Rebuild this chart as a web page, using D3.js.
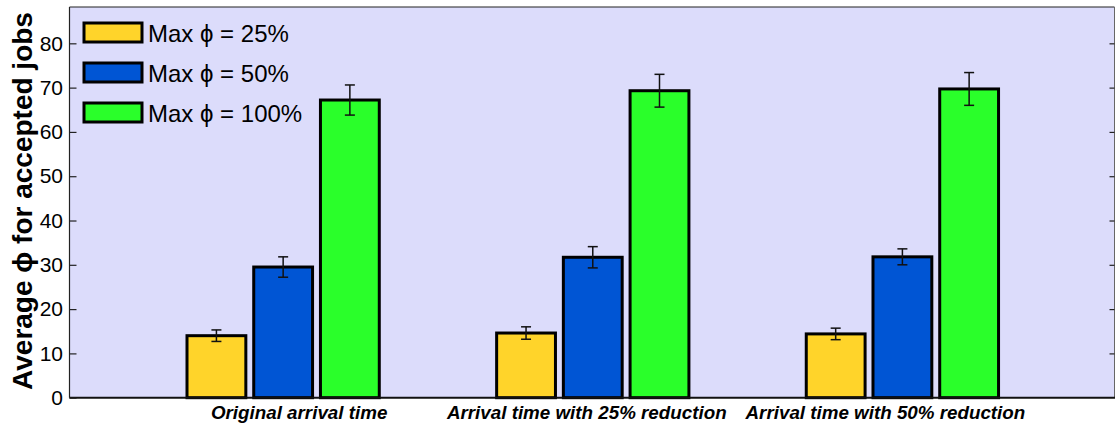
<!DOCTYPE html>
<html><head><meta charset="utf-8">
<script src="https://cdn.jsdelivr.net/npm/d3@7"></script>
<style>body{margin:0;background:#fff}svg{display:block}</style>
</head><body>
<script>
const categories = ["Original arrival time", "Arrival time with 25% reduction", "Arrival time with 50% reduction"];
const seriesNames = ["Max \u03d5 = 25%", "Max \u03d5 = 50%", "Max \u03d5 = 100%"];
const max25 = [14.0, 14.6, 14.4];
const max50 = [29.5, 31.7, 31.8];
const max100 = [67.2, 69.3, 69.7];
const err25 = [1.3, 1.4, 1.3];
const err50 = [2.3, 2.4, 1.8];
const err100 = [3.4, 3.7, 3.7];
const yTicks = [0, 10, 20, 30, 40, 50, 60, 70, 80];
const colors = ["#ffd42a", "#0055d4", "#2aff2a"];
const labelShift = [16, -6, -17];

const values = [max25, max50, max100];
const errs = [err25, err50, err100];

const W = 1115, H = 427;
const L = 69.5, R = 1114.5, T = 7, B = 397.7;
const FONT = "Liberation Sans, Arial, Helvetica, sans-serif";
const svg = d3.select("body").append("svg").attr("width", W).attr("height", H);

const x = d3.scaleLinear().domain([0.31, 3.685]).range([L, R]);
const y = d3.scaleLinear().domain([0, 88.2]).range([B, T]);
const pitch = 0.2155, bw = 0.19;

svg.append("rect").attr("x", L).attr("y", T).attr("width", R - L).attr("height", B - T).attr("fill", "#dcdcfb");

// bars
values.forEach((arr, s) => {
  const g = svg.append("g");
  arr.forEach((v, i) => {
    const cx = x(i + 1 + (s - 1) * pitch);
    const w = x(bw) - x(0);
    const x0 = cx - w / 2;
    g.append("rect").attr("x", x0).attr("y", y(v)).attr("width", w).attr("height", y(0) - y(v))
      .attr("fill", colors[s]).attr("stroke", "#000").attr("stroke-width", 3);
    const e = errs[s][i];
    const eg = svg.append("g").attr("stroke", "#111").attr("stroke-width", 1.5);
    eg.append("line").attr("x1", cx).attr("x2", cx).attr("y1", y(v + e)).attr("y2", y(v - e));
    eg.append("line").attr("x1", cx - 5).attr("x2", cx + 5).attr("y1", y(v + e)).attr("y2", y(v + e));
    eg.append("line").attr("x1", cx - 5).attr("x2", cx + 5).attr("y1", y(v - e)).attr("y2", y(v - e));
  });
});

// frame
svg.append("line").attr("x1", L).attr("x2", R).attr("y1", T).attr("y2", T).attr("stroke", "#222").attr("stroke-width", 1.2);
svg.append("line").attr("x1", L).attr("x2", L).attr("y1", T).attr("y2", B).attr("stroke", "#222").attr("stroke-width", 1.2);
svg.append("line").attr("x1", R).attr("x2", R).attr("y1", T).attr("y2", B).attr("stroke", "#666").attr("stroke-width", 1);
svg.append("line").attr("x1", L).attr("x2", W).attr("y1", B).attr("y2", B).attr("stroke", "#111").attr("stroke-width", 2);

// y axis
const yAxis = d3.axisLeft(y).tickValues(yTicks).tickSize(-7).tickPadding(6.5).tickFormat(d3.format("d"));
const ga = svg.append("g").attr("transform", `translate(${L},0)`).call(yAxis);
ga.select(".domain").remove();
ga.selectAll(".tick line").attr("stroke", "#222").attr("stroke-width", 1.2);
ga.selectAll(".tick text").attr("font-family", FONT).attr("font-size", 21).attr("fill", "#000");
const yAxisR = d3.axisRight(y).tickValues(yTicks.filter(d => d > 0)).tickSize(-5).tickFormat("");
const gr = svg.append("g").attr("transform", `translate(${R},0)`).call(yAxisR);
gr.select(".domain").remove();
gr.selectAll(".tick line").attr("stroke", "#222").attr("stroke-width", 1.2);

// x labels
categories.forEach((c, i) => {
  svg.append("text").attr("x", x(i + 1) + labelShift[i]).attr("y", 419).attr("text-anchor", "middle")
    .attr("font-family", FONT).attr("font-weight", "bold").attr("font-style", "italic")
    .attr("font-size", 18.8).attr("fill", "#000").text(c);
});

// y title
svg.append("text").attr("transform", `translate(32,201) rotate(-90)`).attr("text-anchor", "middle")
  .attr("font-family", FONT).attr("font-weight", "bold").attr("font-size", 28).attr("fill", "#000")
  .text("Average \u03d5 for accepted jobs");

// legend
seriesNames.forEach((n, s) => {
  const yy = 22 + s * 40;
  svg.append("rect").attr("x", 84).attr("y", yy + 1).attr("width", 58).attr("height", 19)
    .attr("fill", colors[s]).attr("stroke", "#000").attr("stroke-width", 3);
  svg.append("text").attr("x", 148).attr("y", yy + 19.5).attr("font-family", FONT)
    .attr("font-size", 24).attr("fill", "#000").text(n);
});
</script>
</body></html>
